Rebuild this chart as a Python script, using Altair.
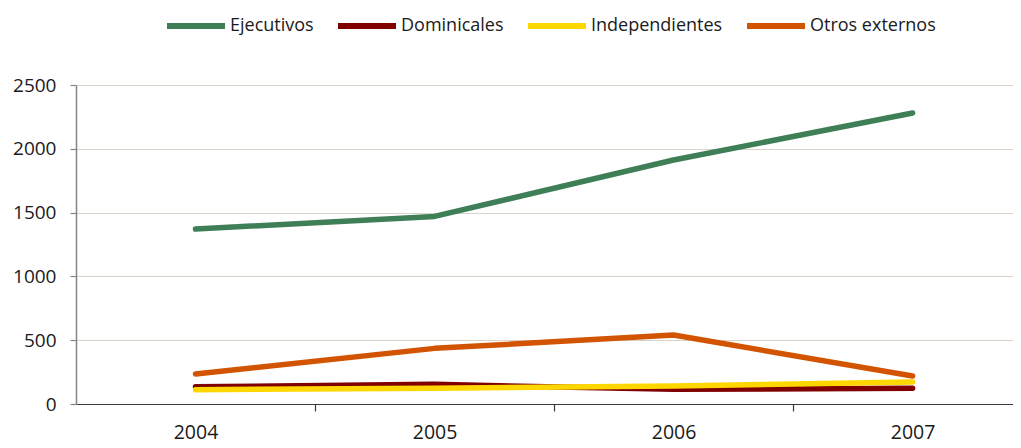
import altair as alt
import pandas as pd

years = [2004, 2005, 2006, 2007]
series = ["Ejecutivos", "Dominicales", "Independientes", "Otros externos"]
ejecutivos = [1371, 1470, 1912, 2280]
dominicales = [135, 154, 115, 123]
independientes = [112, 123, 141, 172]
otros_externos = [235, 436, 541, 219]
colors = ["#3f7f58", "#800000", "#ffd700", "#d35400"]
y_ticks = [0, 500, 1000, 1500, 2000, 2500]
x_sep_ticks = [2004.5, 2005.5, 2006.5]

rows = []
for name, vals in zip(series, [ejecutivos, dominicales, independientes, otros_externos]):
    for yr, v in zip(years, vals):
        rows.append({"year": yr, "value": v, "serie": name})
df = pd.DataFrame(rows)

FONT = "Open Sans"
xscale = alt.Scale(domain=[2003.5, 2007.42], nice=False, zero=False)
yscale = alt.Scale(domain=[0, 2500], nice=False)

lines = alt.Chart(df).mark_line(strokeWidth=5.5, strokeCap="round", strokeJoin="round").encode(
    x=alt.X("year:Q", scale=xscale, title=None,
            axis=alt.Axis(values=years, format="d", ticks=False, grid=False, domain=True,
                          domainColor="#3a3a3a", domainWidth=1.2, labelPadding=19,
                          labelFontSize=19.5, labelFont=FONT, labelColor="#1a1a1a",
                          orient="bottom", labelFlush=False)),
    y=alt.Y("value:Q", scale=yscale, title=None,
            axis=alt.Axis(values=y_ticks, format="d", grid=True, gridColor="#d9d3ca", gridWidth=1,
                          domainColor="#858585", domainWidth=1.5, tickColor="#858585",
                          tickSize=6, tickWidth=1.2, labelPadding=14, labelFontSize=19,
                          labelFont=FONT, labelColor="#1a1a1a")),
    color=alt.Color("serie:N", scale=alt.Scale(domain=series, range=colors),
                    legend=alt.Legend(title=None, orient="none", legendX=88, legendY=-91,
                                      direction="horizontal", symbolType="stroke",
                                      symbolSize=3364, symbolStrokeWidth=6,
                                      labelFontSize=18, labelFont=FONT, labelColor="#1a1a1a",
                                      columnPadding=12, labelOffset=2)),
)

sep = alt.Chart(pd.DataFrame({"year": x_sep_ticks})).mark_point(opacity=0).encode(
    x=alt.X("year:Q", scale=xscale, title=None,
            axis=alt.Axis(values=x_sep_ticks, labels=False, ticks=True, tickSize=7,
                          tickColor="#3a3a3a", tickWidth=1.2, domain=False, grid=False,
                          orient="bottom")),
)

chart = alt.layer(lines, sep).resolve_axis(x="independent").properties(
    width=937, height=319,
    autosize=alt.AutoSizeParams(type="none"),
    padding={"left": 68, "top": 77, "right": 0, "bottom": 44},
).configure_view(stroke=None).configure(background="white")

chart.save("out.html", embed_options={"renderer": "svg", "actions": False})
